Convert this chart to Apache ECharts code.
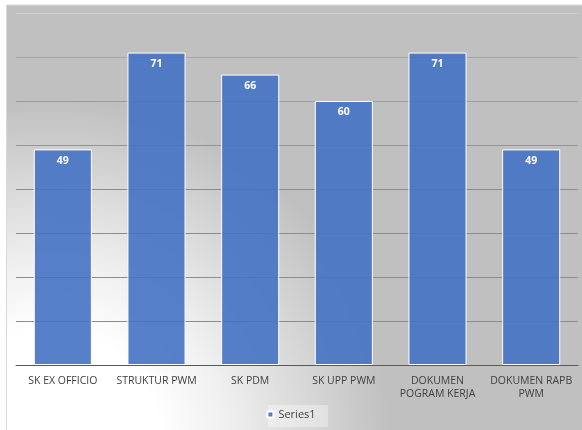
<!DOCTYPE html>
<html>
<head>
<meta charset="utf-8">
<script src="https://cdn.jsdelivr.net/npm/echarts@6/dist/echarts.min.js"></script>
<style>
  html, body { margin: 0; padding: 0; background: #ffffff; }
  #chart { width: 582px; height: 430px; }
</style>
</head>
<body>
<div id="chart"></div>
<script>
// Document completeness counts per item
const categories = ['SK EX OFFICIO', 'STRUKTUR PWM', 'SK PDM', 'SK UPP PWM', 'DOKUMEN\nPOGRAM KERJA', 'DOKUMEN RAPB\nPWM'];
const seriesName = 'Series1';
const values = [49, 71, 66, 60, 71, 49];
const axisMax = 80;
const axisStep = 10;

const chart = echarts.init(document.getElementById('chart'), null, { renderer: 'canvas' });

// grid lines: the bottom ones are darker, the top edge line is lighter
const splitColors = ['#8c8c8c', '#8c8c8c', '#8c8c8c', '#8c8c8c', '#8c8c8c', '#949494', '#9c9c9c', '#a6a6a6', '#d2d2d2'];

chart.setOption({
  animation: false,
  backgroundColor: '#ffffff',
  textStyle: { fontFamily: 'Open Sans' },
  graphic: [{
    type: 'rect',
    z: -10,
    silent: true,
    shape: { x: 6.5, y: 5, width: 580, height: 430 },
    style: {
      stroke: '#d9d9d9',
      lineWidth: 1,
      fill: {
        type: 'radial',
        x: 50, y: 440, r: 340,
        global: true,
        colorStops: [
          { offset: 0, color: '#ffffff' },
          { offset: 0.32, color: '#ffffff' },
          { offset: 0.52, color: '#f0f0f0' },
          { offset: 0.78, color: '#d6d6d6' },
          { offset: 1, color: '#c0c0c0' }
        ]
      }
    }
  }, {
    type: 'rect',
    z: -5,
    silent: true,
    shape: { x: 268, y: 405, width: 60, height: 22 },
    style: { fill: 'rgba(255,255,255,0.35)' }
  }],
  grid: { left: 16, right: 4, top: 13, bottom: 65, containLabel: false },
  legend: {
    bottom: 5,
    left: 'center',
    itemWidth: 6,
    itemHeight: 6,
    itemGap: 4,
    icon: 'rect',
    textStyle: { color: '#404040', fontSize: 11, fontFamily: 'Open Sans' },
    data: [seriesName]
  },
  xAxis: {
    type: 'category',
    data: categories,
    axisLine: { show: true, lineStyle: { color: '#595959', width: 1 } },
    axisTick: { show: false },
    axisLabel: {
      color: '#404040',
      fontSize: 10.5,
      fontFamily: 'Open Sans',
      interval: 0,
      margin: 10,
      lineHeight: 13
    }
  },
  yAxis: {
    type: 'value',
    min: 0,
    max: axisMax,
    interval: axisStep,
    axisLine: { show: false },
    axisTick: { show: false },
    axisLabel: { show: false },
    splitLine: { show: true, lineStyle: { color: splitColors, width: 1 } }
  },
  series: [{
    name: seriesName,
    type: 'bar',
    data: values,
    barCategoryGap: '38%',
    itemStyle: {
      color: 'rgba(68,114,196,0.9)',
      borderColor: '#ffffff',
      borderWidth: 1
    },
    label: {
      show: true,
      position: 'insideTop',
      distance: 6,
      color: '#ffffff',
      fontWeight: 'bold',
      fontSize: 10.5,
      fontFamily: 'Open Sans'
    }
  }]
});
</script>
</body>
</html>
